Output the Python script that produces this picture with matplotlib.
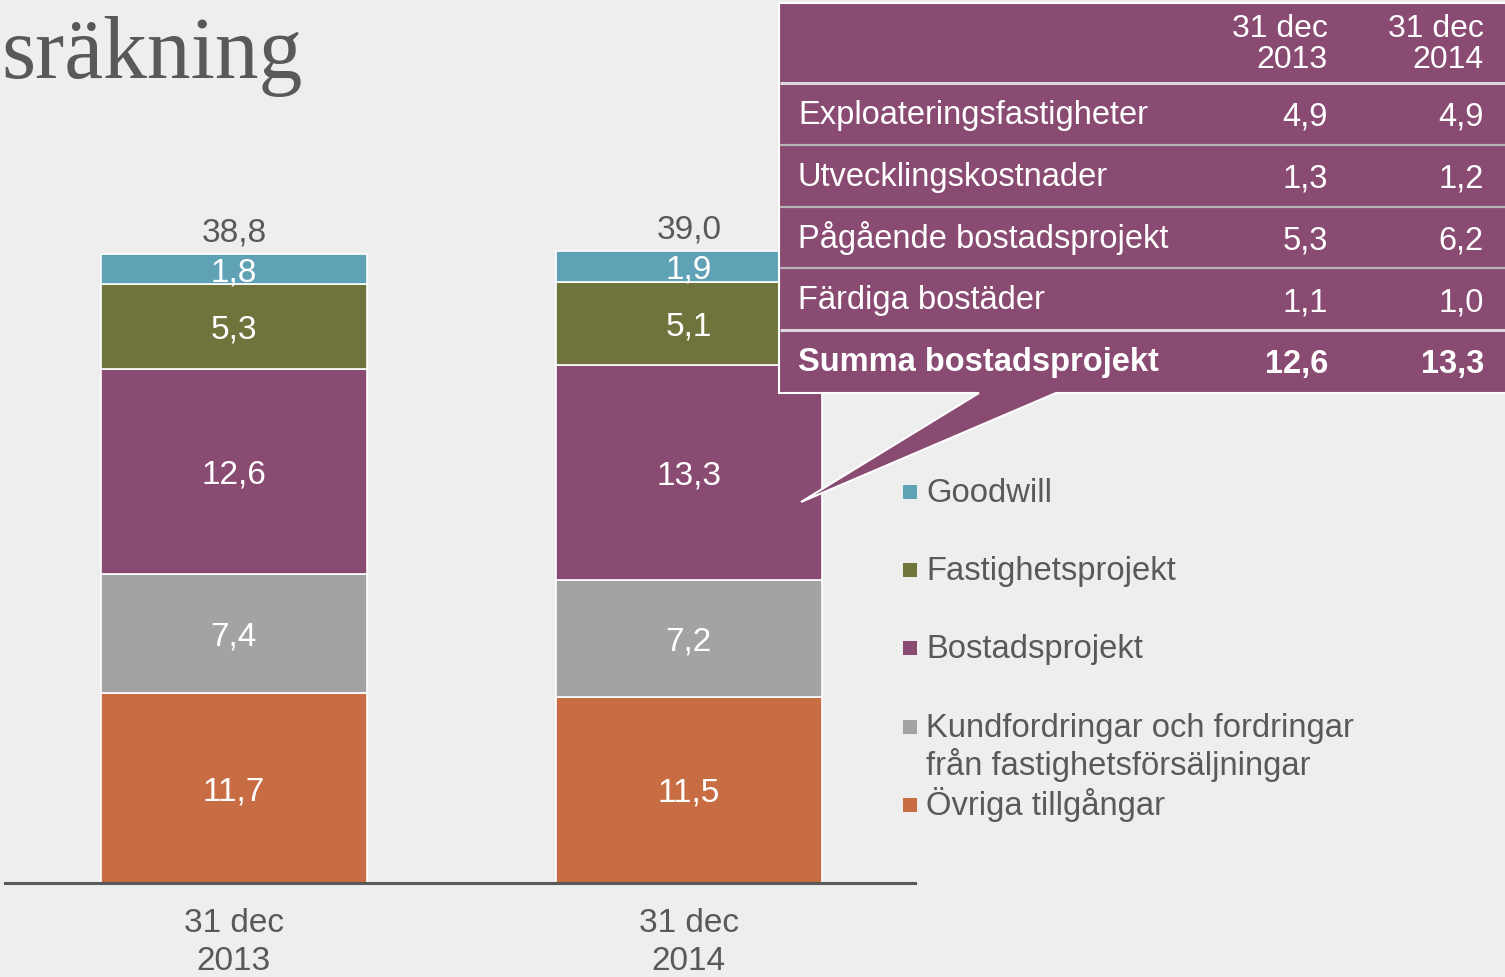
import numpy as np
import matplotlib
matplotlib.use("Agg")
import matplotlib.pyplot as plt
from matplotlib.patches import Polygon, Rectangle

plt.rcParams['font.family'] = ['Liberation Sans', 'DejaVu Sans']

# Data
dates = ['31 dec\n2013', '31 dec\n2014']
categories = ['Övriga tillgångar',
              'Kundfordringar och fordringar\nfrån fastighetsförsäljningar',
              'Bostadsprojekt', 'Fastighetsprojekt', 'Goodwill']
ovriga = [11.7, 11.5]
kundfordringar = [7.4, 7.2]
bostadsprojekt = [12.6, 13.3]
fastighetsprojekt = [5.3, 5.1]
goodwill = [1.8, 1.9]
totals = [38.8, 39.0]
colors = ['#C86C43', '#A3A3A3', '#8A4B73', '#6F743C', '#5FA2B6']

table_header = ['31 dec\n2013', '31 dec\n2014']
table_rows = ['Exploateringsfastigheter', 'Utvecklingskostnader',
              'Pågående bostadsprojekt', 'Färdiga bostäder', 'Summa bostadsprojekt']
table_2013 = [4.9, 1.3, 5.3, 1.1, 12.6]
table_2014 = [4.9, 1.2, 6.2, 1.0, 13.3]

BG = '#EEEEEE'
TXT = '#595959'
PURPLE = '#8A4B73'

def fmt(v):
    return f"{v:.1f}".replace('.', ',')

fig = plt.figure(figsize=(15.05, 9.77), dpi=100)
fig.patch.set_facecolor(BG)

# Stapeldiagram
W, H = 1505, 977
ax = fig.add_axes([5 / W, 94 / H, 910 / W, 44 * 16.2 / H])
ax.set_facecolor('none')
x = np.arange(len(dates))
series = [ovriga, kundfordringar, bostadsprojekt, fastighetsprojekt, goodwill]
bottom = np.zeros(len(dates))
for vals, col in zip(series, colors):
    ax.bar(x, vals, width=0.585, bottom=bottom, color=col,
           edgecolor='white', linewidth=1.2)
    for xi, b, v in zip(x, bottom, vals):
        ax.text(xi, b + v / 2, fmt(v), ha='center', va='center_baseline',
                color='white', fontsize=24)
    bottom += np.array(vals)
for xi, t in zip(x, totals):
    ax.annotate(fmt(t), (xi, t), xytext=(0, 4), textcoords='offset points',
                ha='center', va='bottom', color=TXT, fontsize=24)

ax.set_xlim(-0.503, 1.497)
ax.set_ylim(0, 44)
for s in ['top', 'left', 'right']:
    ax.spines[s].set_visible(False)
ax.spines['bottom'].set_color(TXT)
ax.spines['bottom'].set_linewidth(2.2)
ax.set_yticks([])
ax.set_xticks(x)
ax.set_xticklabels(dates, fontsize=24, color=TXT, linespacing=1.3)
ax.tick_params(axis='x', length=0, pad=18)

# Overlay i pixelkoordinater
ov = fig.add_axes([0, 0, 1, 1], zorder=5)
ov.set_xlim(0, W)
ov.set_ylim(H, 0)
ov.axis('off')
ov.patch.set_visible(False)

# Titel
ov.text(1, 78, 'sräkning', ha='left', va='baseline', fontsize=63,
        color=TXT, family=['Liberation Serif', 'DejaVu Serif'])

# Pratbubbla med tabell
bubble = Polygon([(779, 3), (1512, 3), (1512, 393), (1056, 393), (801, 502),
                  (979, 393), (779, 393)], closed=True, facecolor=PURPLE,
                 edgecolor='white', linewidth=1.5)
ov.add_patch(bubble)
for y, c, lw in [(83, '#D9D9D9', 2.2), (145, '#B5B5B5', 1.6), (207, '#B5B5B5', 1.6),
                 (268, '#B5B5B5', 1.6), (330, '#D9D9D9', 2.2)]:
    ov.plot([780, 1505], [y, y], color=c, lw=lw, solid_capstyle='butt')

for xr, head in zip([1328, 1484], table_header):
    l1, l2 = head.split('\n')
    ov.text(xr, 37, l1, ha='right', va='baseline', color='white', fontsize=23)
    ov.text(xr, 68, l2, ha='right', va='baseline', color='white', fontsize=23)

row_base = [124, 186, 248, 309, 371]
for i, (lab, a, b) in enumerate(zip(table_rows, table_2013, table_2014)):
    fw = 'bold' if i == len(table_rows) - 1 else 'normal'
    yb = row_base[i]
    ov.text(798, yb, lab, ha='left', va='baseline', color='white',
            fontsize=23.5, fontweight=fw)
    ov.text(1328, yb + 2, fmt(a), ha='right', va='baseline', color='white',
            fontsize=23.5, fontweight=fw)
    ov.text(1484, yb + 2, fmt(b), ha='right', va='baseline', color='white',
            fontsize=23.5, fontweight=fw)

# Förklaring
leg_base = [815, 737, 658, 580, 502]
for lab, col, yb in zip(categories, colors, leg_base):
    ov.add_patch(Rectangle((903, yb - 17), 14, 14, facecolor=col, edgecolor='none'))
    for k, line in enumerate(lab.split('\n')):
        ov.text(926, yb + k * 38, line, ha='left', va='baseline', color=TXT,
                fontsize=23.6)

fig.savefig('out.png', dpi=100, facecolor=BG)
